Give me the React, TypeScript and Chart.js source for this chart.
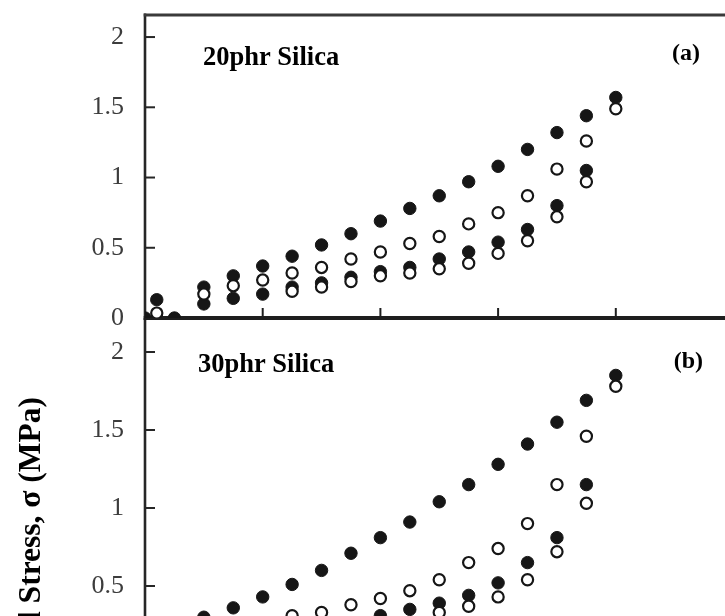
import React, { useEffect, useRef } from 'react';
import { Chart, registerables } from 'chart.js';

Chart.register(...registerables);

const SERIF = '"Liberation Serif", "Times New Roman", serif';

// ---- data ----
const strainLevels = [0.5, 0.75, 1, 1.25, 1.5, 1.75, 2, 2.25, 2.5, 2.75, 3, 3.25, 3.5, 3.75, 4];
const strainTickValues = [1, 2, 3, 4];
const stressTickValues = [0, 0.5, 1, 1.5, 2];

// (a) 20phr Silica
const s20FilledUpper = [0.22, 0.30, 0.37, 0.44, 0.52, 0.60, 0.69, 0.78, 0.87, 0.97, 1.08, 1.20, 1.32, 1.44, 1.57];
const s20OpenUpper = [0.17, 0.23, 0.27, 0.32, 0.36, 0.42, 0.47, 0.53, 0.58, 0.67, 0.75, 0.87, 1.06, 1.26, 1.49];
const s20FilledLower = [0.10, 0.14, 0.17, 0.22, 0.25, 0.29, 0.33, 0.36, 0.42, 0.47, 0.54, 0.63, 0.80, 1.05, null];
const s20OpenLower = [null, null, null, 0.19, 0.22, 0.26, 0.30, 0.32, 0.35, 0.39, 0.46, 0.55, 0.72, 0.97, null];
const s20StartStrain = [0, 0.1, 0.25];
const s20StartFilled = [0, 0.13, 0];
const s20StartOpenStrain = [0.1];
const s20StartOpen = [0.035];

// (b) 30phr Silica
const s30FilledUpper = [0.30, 0.36, 0.43, 0.51, 0.60, 0.71, 0.81, 0.91, 1.04, 1.15, 1.28, 1.41, 1.55, 1.69, 1.85];
const s30OpenUpper = [null, null, null, 0.31, 0.33, 0.38, 0.42, 0.47, 0.54, 0.65, 0.74, 0.90, 1.15, 1.46, 1.78];
const s30FilledLower = [null, null, null, null, null, null, 0.31, 0.35, 0.39, 0.44, 0.52, 0.65, 0.81, 1.15, null];
const s30OpenLower = [null, null, null, null, null, null, null, null, 0.33, 0.37, 0.43, 0.54, 0.72, 1.03, null];

const yTitle = 'Nominal Stress, σ (MPa)';

type Pt = { x: number; y: number };

function toPoints(xs: number[], ys: (number | null)[]): Pt[] {
  const out: Pt[] = [];
  xs.forEach((x, i) => {
    const y = ys[i];
    if (y !== null && y !== undefined) out.push({ x, y });
  });
  return out;
}

const INK = '#161616';

function filledSet(data: Pt[]) {
  return {
    data,
    showLine: false,
    pointRadius: 6.2,
    pointHoverRadius: 6.2,
    backgroundColor: INK,
    borderColor: INK,
    borderWidth: 1,
    order: 1,
  };
}

function openSet(data: Pt[]) {
  return {
    data,
    showLine: false,
    pointRadius: 5.6,
    pointHoverRadius: 5.6,
    backgroundColor: '#ffffff',
    borderColor: INK,
    borderWidth: 2.2,
    order: 0,
  };
}

type TextItem = { text: string; dx: number; y: number; font: string; align: CanvasTextAlign };

function makeFramePlugin(drawTop: boolean, drawBottom: boolean, xTicks: number[]) {
  return {
    id: 'frameLines',
    beforeDatasetsDraw(chart: any) {
      const { ctx, chartArea: a, scales } = chart;
      const ys = scales.y;
      const xs = scales.x;
      ctx.save();
      ctx.strokeStyle = '#262626';
      ctx.lineCap = 'butt';
      // left axis
      ctx.lineWidth = 2.6;
      ctx.beginPath();
      ctx.moveTo(a.left, drawTop ? a.top - 1.5 : a.top);
      ctx.lineTo(a.left, a.bottom + 2);
      ctx.stroke();
      // y inner ticks
      ctx.lineWidth = 2;
      stressTickValues.forEach((v) => {
        if (v === 0) return;
        const py = ys.getPixelForValue(v);
        ctx.beginPath();
        ctx.moveTo(a.left, py);
        ctx.lineTo(a.left + 10, py);
        ctx.stroke();
      });
      if (drawTop) {
        ctx.strokeStyle = '#3a3a3a';
        ctx.lineWidth = 3;
        ctx.beginPath();
        ctx.moveTo(a.left - 1.3, a.top);
        ctx.lineTo(a.right + 5, a.top);
        ctx.stroke();
      }
      if (drawBottom) {
        ctx.strokeStyle = '#1e1e1e';
        ctx.lineWidth = 4;
        ctx.beginPath();
        ctx.moveTo(a.left - 1.3, a.bottom);
        ctx.lineTo(a.right + 5, a.bottom);
        ctx.stroke();
        ctx.lineWidth = 2;
        xTicks.forEach((v) => {
          const px = xs.getPixelForValue(v);
          ctx.beginPath();
          ctx.moveTo(px, a.bottom);
          ctx.lineTo(px, a.bottom - 10);
          ctx.stroke();
        });
      }
      ctx.restore();
    },
  };
}

function makeTextPlugin(items: TextItem[], rotated?: { text: string; x: number; y: number; font: string }) {
  return {
    id: 'panelText',
    afterDraw(chart: any) {
      const { ctx, chartArea: a } = chart;
      ctx.save();
      ctx.fillStyle = '#000';
      ctx.textBaseline = 'alphabetic';
      items.forEach((it) => {
        ctx.font = it.font;
        ctx.textAlign = it.align;
        ctx.fillText(it.text, a.left + it.dx, it.y);
      });
      if (rotated) {
        ctx.translate(rotated.x, rotated.y);
        ctx.rotate(-Math.PI / 2);
        ctx.font = rotated.font;
        ctx.textAlign = 'right';
        ctx.fillText(rotated.text, 0, 0);
      }
      ctx.restore();
    },
  };
}

function baseOptions(opts: {
  canvasH: number;
  axisY: number;
  padTop: number;
  yMax: number;
}) {
  return {
    animation: false as const,
    responsive: false,
    devicePixelRatio: 1,
    layout: { padding: { left: 0, top: opts.padTop, right: 26.5, bottom: 0 } },
    plugins: {
      legend: { display: false },
      tooltip: { enabled: false },
      title: { display: false },
    },
    events: [] as any[],
    scales: {
      x: {
        type: 'linear' as const,
        min: 0,
        max: 5,
        grid: { display: false, drawTicks: false },
        border: { display: false },
        ticks: { display: false },
        afterFit: (s: any) => {
          s.height = opts.canvasH - opts.axisY;
          s.paddingLeft = 0;
          s.paddingRight = 0;
          s.paddingTop = 0;
          s.paddingBottom = 0;
        },
      },
      y: {
        type: 'linear' as const,
        min: 0,
        max: opts.yMax,
        grid: { display: false, drawTicks: false },
        border: { display: false },
        afterBuildTicks: (s: any) => {
          s.ticks = stressTickValues.map((v) => ({ value: v }));
        },
        ticks: {
          color: '#3c3c3c',
          padding: 21,
          font: { family: SERIF, size: 26 },
          callback: (v: any) => String(v),
        },
        afterFit: (s: any) => {
          s.width = 145;
          s.paddingTop = 0;
          s.paddingBottom = 0;
          s.paddingLeft = 0;
          s.paddingRight = 0;
        },
      },
    },
  };
}

export default function App() {
  const topRef = useRef<HTMLCanvasElement>(null);
  const botRef = useRef<HTMLCanvasElement>(null);

  useEffect(() => {
    const topChart = new Chart(topRef.current as HTMLCanvasElement, {
      type: 'scatter',
      data: {
        datasets: [
          filledSet(toPoints(strainLevels, s20FilledUpper)),
          filledSet(toPoints(strainLevels, s20FilledLower)),
          filledSet(toPoints(s20StartStrain, s20StartFilled)),
          openSet(toPoints(strainLevels, s20OpenUpper)),
          openSet(toPoints(strainLevels, s20OpenLower)),
          openSet(toPoints(s20StartOpenStrain, s20StartOpen)),
        ] as any,
      },
      options: baseOptions({ canvasH: 330, axisY: 318, padTop: 15, yMax: 2.157 }) as any,
      plugins: [
        makeFramePlugin(true, true, strainTickValues),
        makeTextPlugin([
          { text: '20phr Silica', dx: 58, y: 65, font: `bold 26.5px ${SERIF}`, align: 'left' },
          { text: '(a)', dx: 555, y: 60, font: `bold 24px ${SERIF}`, align: 'right' },
        ]),
      ],
    });

    const botChart = new Chart(botRef.current as HTMLCanvasElement, {
      type: 'scatter',
      data: {
        datasets: [
          filledSet(toPoints(strainLevels, s30FilledUpper)),
          filledSet(toPoints(strainLevels, s30FilledLower)),
          openSet(toPoints(strainLevels, s30OpenUpper)),
          openSet(toPoints(strainLevels, s30OpenLower)),
        ] as any,
      },
      options: baseOptions({ canvasH: 420, axisY: 364, padTop: 18, yMax: 2.218 }) as any,
      plugins: [
        makeFramePlugin(false, false, []),
        makeTextPlugin(
          [
            { text: '30phr Silica', dx: 53, y: 72, font: `bold 26.5px ${SERIF}`, align: 'left' },
            { text: '(b)', dx: 558, y: 68, font: `bold 24px ${SERIF}`, align: 'right' },
          ],
          { text: yTitle, x: 40, y: 97, font: `bold 31.5px ${SERIF}` }
        ),
      ],
    });

    return () => {
      topChart.destroy();
      botChart.destroy();
    };
  }, []);

  return (
    <div
      style={{
        position: 'fixed',
        left: 0,
        top: 0,
        width: 725,
        height: 616,
        overflow: 'hidden',
        background: '#ffffff',
      }}
    >
      <canvas
        ref={botRef}
        width={760}
        height={420}
        style={{ position: 'absolute', left: 0, top: 300, width: 760, height: 420, display: 'block' }}
      />
      <canvas
        ref={topRef}
        width={760}
        height={330}
        style={{ position: 'absolute', left: 0, top: 0, width: 760, height: 330, display: 'block' }}
      />
    </div>
  );
}
